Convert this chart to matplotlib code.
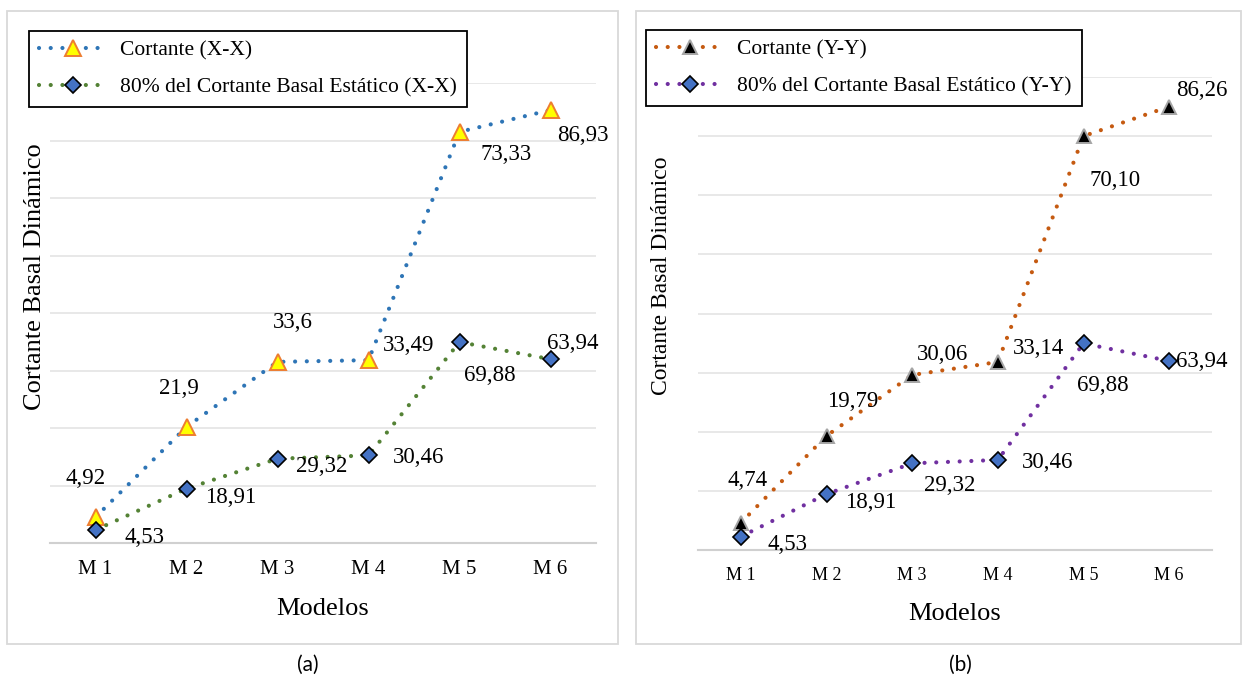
import matplotlib
matplotlib.use('Agg')
import matplotlib.pyplot as plt
from matplotlib.patches import Rectangle

# datos
modelos = ['M 1', 'M 2', 'M 3', 'M 4', 'M 5', 'M 6']

# cortante dinamico (posicion dibujada, eje principal 0-80)
cortante_xx = [4.5, 20.2, 31.5, 31.8, 71.5, 75.3]
cortante_yy = [4.6, 19.3, 29.6, 31.8, 70.0, 75.0]
cortante_xx_lbl = ['4,92', '21,9', '33,6', '33,49', '73,33', '86,93']
cortante_yy_lbl = ['4,74', '19,79', '30,06', '33,14', '70,10', '86,26']

# 80% del cortante basal estatico (eje secundario 0-160)
estatico_xx = [4.53, 18.91, 29.32, 30.46, 69.88, 63.94]
estatico_yy = [4.53, 18.91, 29.32, 30.46, 69.88, 63.94]

# desplazamientos de etiquetas (pixeles)
off_cx = [(-10, 39), (-8, 38), (15, 39), (40, 15), (47, -23), (32, -25)]
off_ex = [(49, -8), (44, -9), (44, -8), (50, -2), (30, -33), (22, 16)]
off_cy = [(7, 42), (26, 34), (30, 20), (41, 13), (32, -44), (33, 16)]
off_ey = [(47, -8), (44, -8), (38, -22), (50, -3), (19, -42), (33, -1)]

SERIF = 'Liberation Serif'
DOTS = (0, (0.01, 2.8))


def draw_panel(fig, rect, box, serie1, lbl1, est, offs1, offs2,
               st1, st2, tick_fs, ylab_fs, ylab_x, leg_anchor, tag, tag_x):
    W, H = 1243., 686.
    x0, y0, x1, y1 = box
    fig.patches.append(Rectangle((x0 / W, 1 - y1 / H), (x1 - x0) / W,
                                 (y1 - y0) / H, transform=fig.transFigure,
                                 fill=False, ec='#D9D9D9', lw=1.3))
    l, t, r, b = rect
    ax = fig.add_axes([l / W, 1 - b / H, (r - l) / W, (b - t) / H])
    ax2 = ax.twinx()
    x = list(range(len(modelos)))

    ln1, = ax.plot(x, serie1, label=st1['label'], c=st1['c'], lw=3.0,
                   ls=DOTS, dash_capstyle='round', marker=st1['m'],
                   ms=st1['ms'], mfc=st1['mfc'], mec=st1['mec'], mew=1.4,
                   zorder=3)
    ln2, = ax2.plot(x, est, label=st2['label'], c=st2['c'], lw=3.0,
                    ls=DOTS, dash_capstyle='round', marker='D', ms=8.5,
                    mfc='#4472C4', mec='k', mew=1.2, zorder=3)

    for i in x:
        ax.annotate(lbl1[i], (i, serie1[i]), xytext=offs1[i],
                    textcoords='offset pixels', ha='center', va='center',
                    fontsize=16.5, family=SERIF, zorder=5)
        ax2.annotate(('%.2f' % est[i]).replace('.', ','), (i, est[i]),
                     xytext=offs2[i], textcoords='offset pixels',
                     ha='center', va='center', fontsize=16.5, family=SERIF,
                     zorder=5)

    ax.set_xlim(-0.5, len(modelos) - 0.5)
    ax.set_ylim(0, 80)
    ax2.set_ylim(0, 160)
    ax.set_yticks(range(0, 81, 10))
    ax.yaxis.grid(True, color='#E4E4E4', lw=1.2)
    ax.set_axisbelow(True)
    ax.set_yticklabels([])
    ax.tick_params(axis='y', length=0)
    ax.tick_params(axis='x', length=0, pad=12)
    ax.set_xticks(x)
    ax.set_xticklabels(modelos, family=SERIF, fontsize=tick_fs)
    ax2.set_yticks([])
    for a in (ax, ax2):
        for s in ('top', 'right', 'left'):
            a.spines[s].set_visible(False)
        a.spines['bottom'].set_color('#D0D0D0')
        a.spines['bottom'].set_linewidth(1.5)
    ax2.spines['bottom'].set_visible(False)

    ax.set_xlabel('Modelos', family=SERIF, fontsize=19, labelpad=14)
    ax.set_ylabel('Cortante Basal Dinámico', family=SERIF, fontsize=ylab_fs)
    ax.yaxis.set_label_coords(ylab_x, 0.58)

    leg = ax2.legend([ln1, ln2], [st1['label'], st2['label']],
                     loc='upper left', bbox_to_anchor=leg_anchor,
                     bbox_transform=fig.transFigure, borderaxespad=0,
                     fancybox=False, framealpha=1, edgecolor='k',
                     prop={'family': SERIF, 'size': 15.5}, handlelength=3.2,
                     handletextpad=0.6, labelspacing=0.78, borderpad=0.45)
    leg.get_frame().set_linewidth(1.3)
    leg.set_zorder(10)

    fig.text(tag_x / W, 1 - 665 / H, tag, ha='center', va='center',
             family='Lato', fontsize=15)
    return ax


if __name__ == "__main__":
    fig = plt.figure(figsize=(12.43, 6.86), dpi=100)

    st_cx = {'label': 'Cortante (X-X)', 'c': '#2E75B6', 'm': '^', 'ms': 11.5,
             'mfc': '#FFFF00', 'mec': '#ED7D31'}
    st_ex = {'label': '80% del Cortante Basal Estático (X-X)', 'c': '#548235'}
    st_cy = {'label': 'Cortante (Y-Y)', 'c': '#C55A11', 'm': '^', 'ms': 10.5,
             'mfc': 'k', 'mec': '#A5A5A5'}
    st_ey = {'label': '80% del Cortante Basal Estático (Y-Y)', 'c': '#7030A0'}

    draw_panel(fig, (50, 83, 596, 543), (7, 11, 618, 644), cortante_xx,
               cortante_xx_lbl, estatico_xx, off_cx, off_ex,
               st_cx, st_ex, 15, 19, -0.008, (29 / 1243., 1 - 31 / 686.),
               '(a)', 308)
    draw_panel(fig, (698, 77, 1212, 550), (636, 11, 1241, 644), cortante_yy,
               cortante_yy_lbl, estatico_yy, off_cy, off_ey,
               st_cy, st_ey, 13, 17, -0.05, (646 / 1243., 1 - 30 / 686.),
               '(b)', 960)

    fig.savefig('out.png', dpi=100)
